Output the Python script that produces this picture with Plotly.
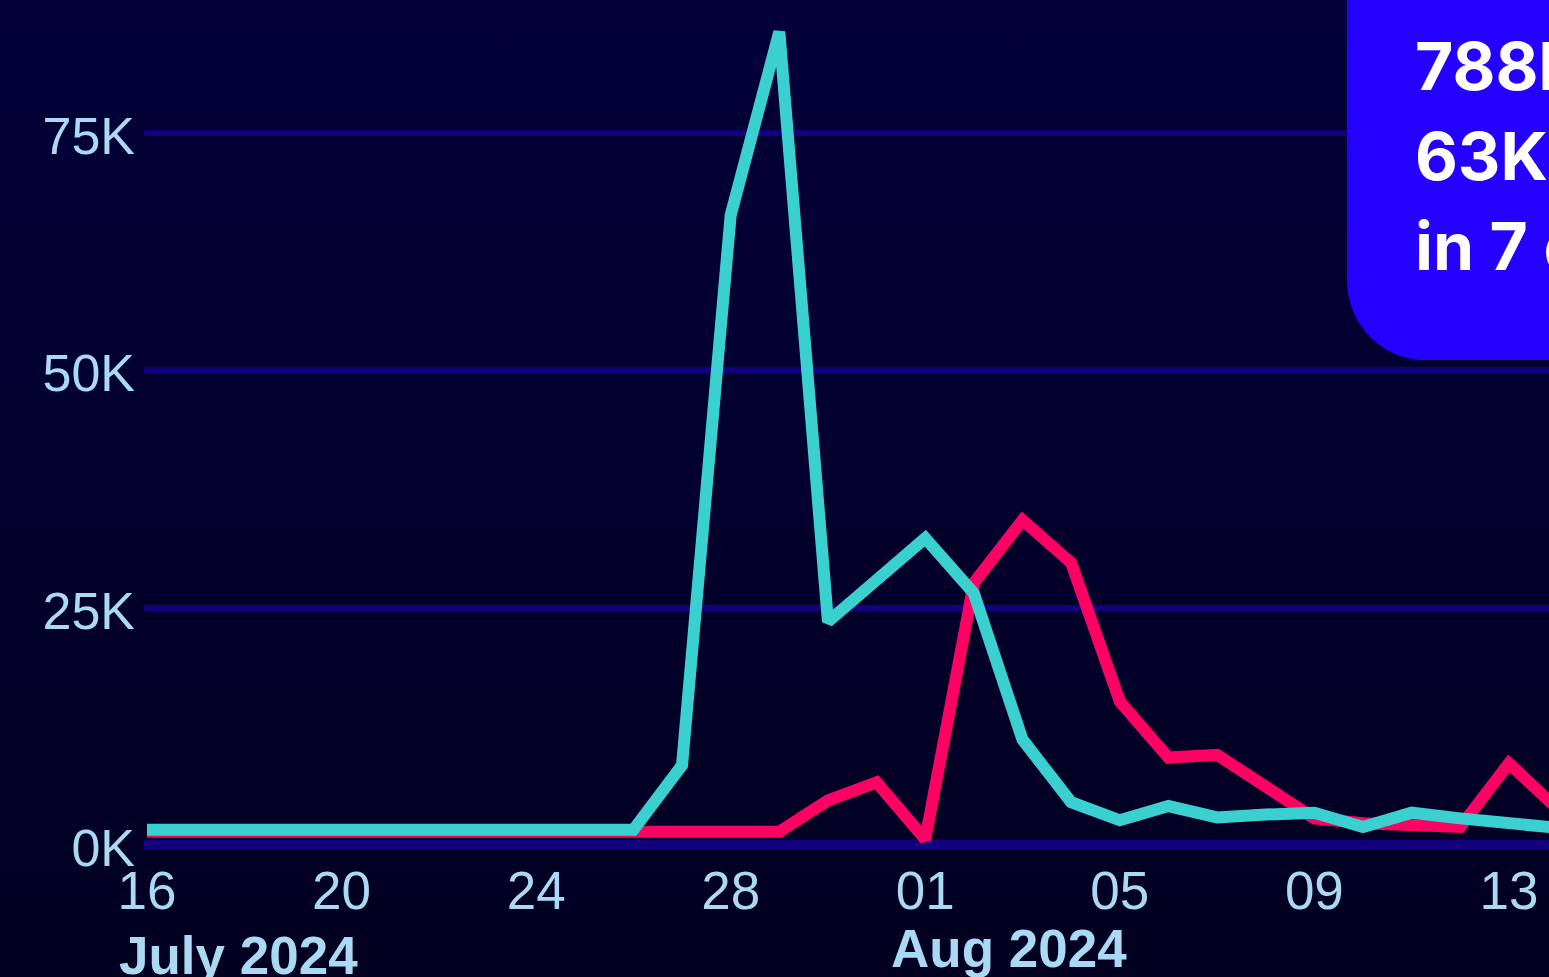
import base64
import pandas as pd
import plotly.graph_objects as go

# ---------------- data ----------------
dates = pd.date_range("2024-07-16", "2024-08-14", freq="D")

teal_values = [1.6, 1.6, 1.6, 1.6, 1.6, 1.6, 1.6, 1.6, 1.6, 1.6, 1.6,   # Jul 16-26
               8.4, 66.3, 85.6, 23.5, 27.9,                               # Jul 27-31
               32.3, 26.5, 11.1, 4.5, 2.6, 4.1, 2.9, 3.2, 3.4, 1.9, 3.4,  # Aug 1-11
               2.8, 2.4, 1.8]                                             # Aug 12-14
pink_values = [1.4, 1.4, 1.4, 1.4, 1.4, 1.4, 1.4, 1.4, 1.4, 1.4, 1.4,   # Jul 16-26
               1.4, 1.4, 1.4, 4.7, 6.6,                                   # Jul 27-31
               0.6, 27.6, 34.2, 29.7, 15.1, 9.2, 9.5, 6.1, 2.8, 2.3, 2.0, # Aug 1-11
               1.9, 8.6, 3.8]                                             # Aug 12-14
teal_values = [v * 1000 for v in teal_values]
pink_values = [v * 1000 for v in pink_values]

x_tick_dates = ["2024-07-16", "2024-07-20", "2024-07-24", "2024-07-28",
                "2024-08-01", "2024-08-05", "2024-08-09", "2024-08-13"]
y_tick_vals = [0, 25000, 50000, 75000]
y_tick_text = ["0K", "25K", "50K", "75K"]
month_labels = [("2024-07-16", "July 2024"), ("2024-08-01", "Aug 2024")]
box_lines = ["788M views", "63K videos", "in 7 days"]

# ---------------- styling ----------------
W, H = 1549, 977
ML, MR, MT, MB = 144, 0, 0, 118
PW, PH = W - ML - MR, H - MT - MB
PX_PER_DAY = 48.64
TICK_COLOR = "#aad9f3"
GRID_COLOR = "#12007c"
TEAL = "#3ad0d0"
PINK = "#ff0063"
BOX = "#2300ff"

x_start = pd.Timestamp("2024-07-16") - pd.Timedelta(days=3 / PX_PER_DAY)
x_end = x_start + pd.Timedelta(days=PW / PX_PER_DAY)

svg = ('<svg xmlns="http://www.w3.org/2000/svg" width="100" height="100" preserveAspectRatio="none">'
       '<defs><linearGradient id="g" x1="0" y1="0" x2="0" y2="1">'
       '<stop offset="0" stop-color="#03003a"/><stop offset="1" stop-color="#020020"/>'
       '</linearGradient></defs><rect width="100" height="100" fill="url(#g)"/></svg>')
bg_src = "data:image/svg+xml;base64," + base64.b64encode(svg.encode()).decode()

fig = go.Figure()
fig.add_trace(go.Scatter(x=dates, y=pink_values, mode="lines",
                         line=dict(color=PINK, width=12), hoverinfo="skip", showlegend=False))
fig.add_trace(go.Scatter(x=dates, y=teal_values, mode="lines",
                         line=dict(color=TEAL, width=12), hoverinfo="skip", showlegend=False))

def px_x(px):
    return (px - ML) / PW

def px_y(py):
    return (MT + PH - py) / PH

# rounded blue box (top-right)
x0, yb = px_x(1347), px_y(360)
rx, ry = 78 / PW, 80 / PH
k = 0.5523
path = (f"M {x0},1.2 L {x0},{yb + ry} "
        f"C {x0},{yb + ry * (1 - k)} {x0 + rx * (1 - k)},{yb} {x0 + rx},{yb} "
        f"L 1.2,{yb} L 1.2,1.2 Z")

annotations = []
for i, line in enumerate(box_lines):
    annotations.append(dict(text=line, xref="paper", yref="paper",
                            x=px_x(1413), y=px_y(66 + 90 * i),
                            xanchor="left", yanchor="middle", showarrow=False,
                            font=dict(family="Inter", size=66, color="white", weight=700)))
annotations.append(dict(text=month_labels[0][1], xref="x", yref="paper",
                        x=month_labels[0][0], xshift=-30, y=px_y(956),
                        xanchor="left", yanchor="middle", showarrow=False,
                        font=dict(family="Liberation Sans", size=53, color=TICK_COLOR, weight=700)))
annotations.append(dict(text=month_labels[1][1], xref="x", yref="paper",
                        x=month_labels[1][0], xshift=-36, y=px_y(949),
                        xanchor="left", yanchor="middle", showarrow=False,
                        font=dict(family="Liberation Sans", size=53, color=TICK_COLOR, weight=700)))

fig.update_layout(
    width=W, height=H,
    margin=dict(l=ML, r=MR, t=MT, b=MB, pad=0),
    paper_bgcolor="#020024", plot_bgcolor="rgba(0,0,0,0)",
    images=[dict(source=bg_src, xref="paper", yref="paper",
                 x=-ML / PW, y=1 + MT / PH, sizex=W / PW, sizey=H / PH,
                 sizing="stretch", xanchor="left", yanchor="top", layer="below")],
    shapes=[dict(type="path", path=path, xref="paper", yref="paper",
                 fillcolor=BOX, line=dict(width=0), layer="above")],
    annotations=annotations,
    xaxis=dict(type="date", range=[x_start, x_end], tickvals=x_tick_dates,
               tickformat="%d", showgrid=False, zeroline=False, showline=False,
               ticks="", tickfont=dict(family="Liberation Sans", size=53, color=TICK_COLOR),
               ticklabelstandoff=-4),
    yaxis=dict(range=[-1474, 88947], tickvals=y_tick_vals, ticktext=y_tick_text,
               showgrid=True, gridcolor=GRID_COLOR, gridwidth=6,
               zeroline=True, zerolinecolor=GRID_COLOR, zerolinewidth=10,
               showline=False, ticks="", ticklabelstandoff=8, ticklabelshift=3,
               tickfont=dict(family="Liberation Sans", size=52, color=TICK_COLOR)),
    font=dict(family="Liberation Sans"),
)

fig.write_html("out.html")
